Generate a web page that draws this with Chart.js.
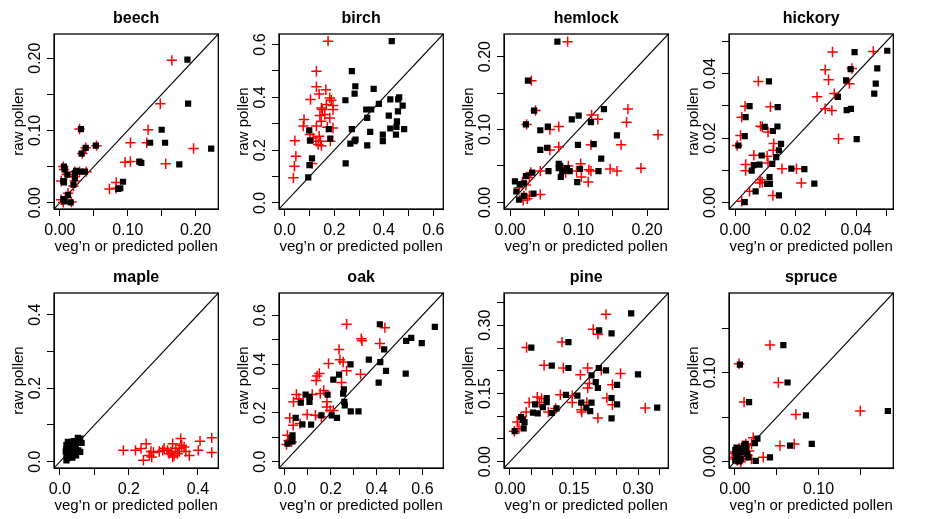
<!DOCTYPE html>
<html>
<head>
<meta charset="utf-8">
<style>
  html, body { margin: 0; padding: 0; background: #fff; }
  #wrap { position: relative; width: 933px; height: 519px; background: #fff; }
  #wrap canvas { position: absolute; }
</style>
</head>
<body>
<div id="wrap"></div>
<script src="https://cdn.jsdelivr.net/npm/chart.js"></script>
<script>
  const panelNames = ["beech", "birch", "hemlock", "hickory", "maple", "oak", "pine", "spruce"];

  // same range on both axes of a panel
  const axisLimits = [
    [-0.0087, 0.2335], [-0.023, 0.64], [-0.009, 0.231], [-0.002, 0.0523],
    [-0.017, 0.459], [-0.026, 0.691], [-0.014, 0.371], [-0.007, 0.1895],
  ];

  const tickValues = [
    [0, 0.05, 0.1, 0.15, 0.2],
    [0, 0.1, 0.2, 0.3, 0.4, 0.5, 0.6],
    [0, 0.05, 0.1, 0.15, 0.2],
    [0, 0.01, 0.02, 0.03, 0.04, 0.05],
    [0, 0.1, 0.2, 0.3, 0.4],
    [0, 0.1, 0.2, 0.3, 0.4, 0.5, 0.6],
    [0, 0.05, 0.1, 0.15, 0.2, 0.25, 0.3, 0.35],
    [0, 0.05, 0.1, 0.15],
  ];

  const tickLabels = [
    ["0.00", "", "0.10", "", "0.20"],
    ["0.0", "", "0.2", "", "0.4", "", "0.6"],
    ["0.00", "", "0.10", "", "0.20"],
    ["0.00", "", "0.02", "", "0.04", ""],
    ["0.0", "", "0.2", "", "0.4"],
    ["0.0", "", "0.2", "", "0.4", "", "0.6"],
    ["0.00", "", "", "0.15", "", "", "0.30", ""],
    ["0.00", "", "0.10", ""],
  ];

  // [x, y] = [veg'n or predicted pollen, raw pollen]
  const beechCross = [[0.165,0.197],[0.148,0.137],[0.130,0.101],[0.104,0.083],[0.128,0.083],[0.197,0.075],[0.156,0.054],[0.104,0.057],[0.096,0.056],[0.083,0.028],[0.073,0.019],[0.083,0.020],[0.029,0.102],[0.033,0.068],[0.038,0.076],[0.054,0.079],[0.039,0.043],[0.029,0.043],[0.022,0.043],[0.005,0.050],[0.010,0.039],[0.002,0.030],[0.022,0.030],[0.020,0.023],[0.012,0.013],[0.002,0.004],[0.017,0.001],[0.005,0.0005],[0.006,0.046],[0.022,0.036],[0.008,0.007]];
  const beechSquare = [[0.188,0.198],[0.189,0.137],[0.150,0.101],[0.155,0.083],[0.133,0.083],[0.223,0.075],[0.176,0.053],[0.117,0.057],[0.120,0.055],[0.093,0.029],[0.086,0.019],[0.089,0.020],[0.031,0.102],[0.032,0.068],[0.038,0.076],[0.053,0.079],[0.037,0.043],[0.030,0.043],[0.022,0.041],[0.006,0.050],[0.007,0.046],[0.011,0.039],[0.005,0.030],[0.022,0.034],[0.020,0.025],[0.012,0.011],[0.005,0.005],[0.007,0.002],[0.016,0.0005],[0.006,0.028],[0.024,0.044]];

  const birchCross = [[0.175,0.613],[0.128,0.499],[0.128,0.440],[0.166,0.429],[0.139,0.413],[0.104,0.392],[0.182,0.398],[0.188,0.389],[0.168,0.373],[0.195,0.369],[0.148,0.360],[0.152,0.354],[0.142,0.331],[0.162,0.335],[0.148,0.309],[0.182,0.322],[0.195,0.354],[0.078,0.316],[0.075,0.291],[0.172,0.287],[0.195,0.284],[0.128,0.291],[0.139,0.253],[0.144,0.234],[0.041,0.236],[0.102,0.259],[0.115,0.246],[0.126,0.234],[0.135,0.221],[0.148,0.217],[0.184,0.234],[0.045,0.177],[0.039,0.139],[0.111,0.149],[0.035,0.095]];
  const birchSquare = [[0.432,0.613],[0.271,0.499],[0.285,0.442],[0.282,0.414],[0.359,0.432],[0.245,0.389],[0.380,0.375],[0.462,0.400],[0.458,0.392],[0.426,0.392],[0.476,0.369],[0.329,0.354],[0.349,0.354],[0.333,0.322],[0.420,0.331],[0.457,0.347],[0.453,0.309],[0.451,0.288],[0.345,0.269],[0.426,0.282],[0.482,0.280],[0.449,0.259],[0.396,0.259],[0.396,0.234],[0.271,0.280],[0.178,0.280],[0.099,0.275],[0.286,0.240],[0.282,0.234],[0.265,0.225],[0.333,0.218],[0.184,0.244],[0.102,0.236],[0.110,0.169],[0.100,0.143],[0.095,0.097],[0.246,0.150]];

  const hemlockCross = [[0.084,0.2205],[0.031,0.167],[0.037,0.126],[0.024,0.107],[0.071,0.104],[0.058,0.100],[0.119,0.120],[0.128,0.114],[0.172,0.128],[0.170,0.110],[0.216,0.093],[0.162,0.079],[0.118,0.079],[0.071,0.076],[0.058,0.072],[0.191,0.047],[0.146,0.046],[0.156,0.043],[0.103,0.053],[0.104,0.035],[0.115,0.045],[0.118,0.043],[0.114,0.028],[0.097,0.043],[0.085,0.050],[0.081,0.041],[0.077,0.045],[0.044,0.043],[0.030,0.041],[0.028,0.034],[0.023,0.024],[0.018,0.028],[0.013,0.020],[0.020,0.009],[0.028,0.009],[0.044,0.011],[0.019,0.003],[0.025,0.005]];
  const hemlockSquare = [[0.069,0.2205],[0.026,0.167],[0.035,0.126],[0.023,0.107],[0.055,0.104],[0.044,0.099],[0.090,0.114],[0.100,0.119],[0.118,0.110],[0.137,0.128],[0.156,0.092],[0.122,0.080],[0.099,0.079],[0.054,0.075],[0.044,0.072],[0.133,0.060],[0.129,0.043],[0.102,0.046],[0.098,0.028],[0.071,0.053],[0.073,0.050],[0.074,0.035],[0.076,0.043],[0.080,0.044],[0.083,0.047],[0.087,0.043],[0.071,0.047],[0.056,0.043],[0.032,0.041],[0.023,0.036],[0.020,0.026],[0.014,0.025],[0.007,0.029],[0.009,0.015],[0.013,0.004],[0.020,0.009],[0.034,0.012]];

  const hickoryCross = [[0.0322,0.0467],[0.0457,0.0469],[0.0298,0.0412],[0.0386,0.0416],[0.0309,0.0381],[0.0378,0.0369],[0.0077,0.0376],[0.0328,0.0338],[0.0271,0.0328],[0.0298,0.0291],[0.0320,0.0286],[0.0033,0.0299],[0.0117,0.0297],[0.0022,0.0265],[0.0084,0.0237],[0.0090,0.0235],[0.0109,0.0219],[0.0018,0.0208],[0.0342,0.0198],[0.0007,0.0177],[0.0128,0.0183],[0.0126,0.0162],[0.0062,0.0147],[0.0106,0.0144],[0.0035,0.0118],[0.0109,0.0123],[0.0035,0.0099],[0.0155,0.0105],[0.0203,0.0105],[0.0084,0.0071],[0.0090,0.0063],[0.0082,0.0061],[0.0219,0.0061],[0.0048,0.0035],[0.0125,0.0022],[0.0022,0.0004]];
  const hickorySquare = [[0.0395,0.0467],[0.0503,0.0471],[0.0382,0.0414],[0.0470,0.0416],[0.0112,0.0376],[0.0367,0.0379],[0.0465,0.0369],[0.0460,0.0338],[0.0340,0.0328],[0.0383,0.0291],[0.0369,0.0287],[0.0048,0.0299],[0.0141,0.0296],[0.0035,0.0265],[0.0098,0.0235],[0.0140,0.0236],[0.0125,0.0222],[0.0402,0.0197],[0.0032,0.0206],[0.0011,0.0177],[0.0152,0.0182],[0.0145,0.0162],[0.0088,0.0146],[0.0136,0.0141],[0.0081,0.0118],[0.0062,0.0116],[0.0123,0.0120],[0.0055,0.0099],[0.0186,0.0105],[0.0229,0.0104],[0.0114,0.0079],[0.0106,0.0058],[0.0115,0.0058],[0.0262,0.0059],[0.0068,0.0035],[0.0145,0.0022],[0.0032,0.0001]];

  const mapleCross = [[0.184,0.031],[0.219,0.031],[0.250,0.049],[0.235,0.036],[0.264,0.028],[0.242,0.004],[0.266,0.013],[0.259,0.017],[0.271,0.025],[0.302,0.037],[0.298,0.031],[0.312,0.031],[0.327,0.049],[0.336,0.036],[0.346,0.028],[0.316,0.022],[0.331,0.017],[0.350,0.063],[0.353,0.045],[0.360,0.040],[0.346,0.037],[0.365,0.028],[0.327,0.013],[0.322,0.027],[0.375,0.017],[0.401,0.031],[0.406,0.056],[0.440,0.065],[0.440,0.025],[0.288,0.028],[0.341,0.022]];
  const mapleSquare = [[0.052,0.065],[0.059,0.063],[0.040,0.056],[0.023,0.054],[0.049,0.052],[0.033,0.048],[0.019,0.045],[0.063,0.051],[0.028,0.040],[0.043,0.037],[0.019,0.034],[0.053,0.031],[0.033,0.028],[0.023,0.025],[0.059,0.027],[0.040,0.022],[0.019,0.019],[0.030,0.016],[0.047,0.017],[0.023,0.010],[0.036,0.011],[0.019,0.004],[0.046,0.043],[0.028,0.031],[0.038,0.028],[0.017,0.028],[0.033,0.022],[0.043,0.031]];

  const oakCross = [[0.269,0.563],[0.333,0.504],[0.336,0.495],[0.414,0.484],[0.436,0.549],[0.236,0.460],[0.240,0.418],[0.254,0.408],[0.269,0.372],[0.247,0.324],[0.330,0.358],[0.190,0.402],[0.150,0.361],[0.140,0.351],[0.136,0.333],[0.169,0.292],[0.154,0.279],[0.119,0.275],[0.183,0.245],[0.183,0.224],[0.197,0.210],[0.211,0.210],[0.097,0.193],[0.133,0.190],[0.159,0.183],[0.050,0.275],[0.061,0.258],[0.037,0.245],[0.021,0.179],[0.036,0.149],[0.066,0.156],[0.011,0.108],[0.016,0.087],[0.007,0.070],[0.029,0.081]];
  const oakSquare = [[0.414,0.563],[0.654,0.552],[0.551,0.507],[0.529,0.495],[0.597,0.486],[0.433,0.460],[0.366,0.418],[0.416,0.408],[0.441,0.372],[0.527,0.361],[0.409,0.324],[0.286,0.399],[0.236,0.357],[0.211,0.336],[0.257,0.296],[0.254,0.279],[0.186,0.275],[0.259,0.245],[0.261,0.231],[0.287,0.206],[0.321,0.206],[0.159,0.190],[0.204,0.190],[0.227,0.179],[0.114,0.152],[0.076,0.153],[0.090,0.275],[0.107,0.265],[0.107,0.245],[0.069,0.242],[0.047,0.179],[0.033,0.108],[0.030,0.097],[0.033,0.083],[0.011,0.074]];

  const pineCross = [[0.225,0.324],[0.195,0.291],[0.206,0.280],[0.122,0.263],[0.039,0.251],[0.080,0.212],[0.125,0.206],[0.182,0.206],[0.214,0.201],[0.259,0.194],[0.165,0.191],[0.186,0.172],[0.182,0.162],[0.240,0.169],[0.118,0.147],[0.227,0.140],[0.240,0.125],[0.146,0.145],[0.146,0.130],[0.167,0.114],[0.168,0.109],[0.180,0.130],[0.107,0.117],[0.090,0.109],[0.206,0.096],[0.317,0.118],[0.045,0.130],[0.064,0.142],[0.074,0.139],[0.069,0.130],[0.038,0.109],[0.026,0.098],[0.017,0.087],[0.021,0.073],[0.010,0.067]];
  const pineSquare = [[0.284,0.326],[0.209,0.289],[0.238,0.282],[0.137,0.263],[0.050,0.251],[0.098,0.211],[0.137,0.206],[0.208,0.206],[0.225,0.201],[0.300,0.192],[0.191,0.190],[0.201,0.175],[0.206,0.162],[0.251,0.169],[0.158,0.145],[0.131,0.147],[0.238,0.140],[0.251,0.126],[0.167,0.130],[0.191,0.130],[0.179,0.119],[0.188,0.111],[0.109,0.117],[0.098,0.107],[0.238,0.095],[0.345,0.119],[0.086,0.140],[0.086,0.131],[0.077,0.120],[0.059,0.126],[0.065,0.106],[0.054,0.108],[0.026,0.098],[0.034,0.087],[0.030,0.092],[0.032,0.073],[0.011,0.067]];

  const spruceCross = [[0.042,0.131],[0.005,0.110],[0.052,0.089],[0.011,0.067],[0.073,0.053],[0.150,0.057],[0.071,0.020],[0.054,0.018],[0.022,0.027],[0.034,0.005],[0.020,0.003],[0.000,0.011],[0.002,0.007],[0.007,0.013],[0.009,0.018],[0.013,0.020],[0.003,0.0015],[0.009,0.003],[0.0005,0.003],[0.015,0.007],[0.005,0.015],[0.0005,0.005],[0.017,0.012],[0.011,0.007],[0.004,0.009],[0.007,0.000],[0.020,0.020],[0.000,0.009]];
  const spruceSquare = [[0.058,0.131],[0.006,0.109],[0.063,0.089],[0.017,0.067],[0.085,0.052],[0.183,0.057],[0.092,0.020],[0.066,0.018],[0.027,0.026],[0.042,0.005],[0.025,0.001],[0.024,0.021],[0.0005,0.013],[0.001,0.009],[0.003,0.005],[0.007,0.003],[0.0005,0.0015],[0.009,0.011],[0.011,0.018],[0.013,0.013],[0.015,0.009],[0.016,0.005],[0.005,0.0004],[0.002,0.016],[0.004,0.007],[0.008,0.015],[0.013,0.020],[0.006,0.011]];

  const crossSeries = [beechCross, birchCross, hemlockCross, hickoryCross, mapleCross, oakCross, pineCross, spruceCross];
  const squareSeries = [beechSquare, birchSquare, hemlockSquare, hickorySquare, mapleSquare, oakSquare, pineSquare, spruceSquare];

  const FONT = '"Liberation Sans", Arial, Helvetica, sans-serif';
  const measure = document.createElement("canvas").getContext("2d");
  measure.font = "16px " + FONT;

  // R-style box around the plot region
  const boxPlugin = {
    id: "box",
    afterDatasetsDraw(chart) {
      const a = chart.chartArea, ctx = chart.ctx;
      ctx.save();
      ctx.strokeStyle = "#000";
      ctx.lineWidth = 1.3;
      ctx.strokeRect(a.left, a.top, a.right - a.left, a.bottom - a.top);
      ctx.restore();
    },
  };

  const wrap = document.getElementById("wrap");

  panelNames.forEach((name, i) => {
    const [lo, hi] = axisLimits[i];
    const ticks = tickValues[i];
    const labels = tickLabels[i];
    const widest = Math.max(...labels.map((l) => measure.measureText(l).width));

    const canvas = document.createElement("canvas");
    canvas.width = 225;
    canvas.height = 259;
    canvas.style.left = (i % 4) * 225 + "px";
    canvas.style.top = Math.floor(i / 4) * 259 + "px";
    wrap.appendChild(canvas);

    const setTicks = (s) => { s.ticks = ticks.map((v) => ({ value: v })); };
    const fmt = (v, k) => labels[k];
    const grid = { drawOnChartArea: false, drawTicks: true, tickLength: 7, color: "#000", lineWidth: 1 };

    new Chart(canvas, {
      type: "scatter",
      data: {
        datasets: [
          {
            data: squareSeries[i].map(([x, y]) => ({ x, y })),
            pointStyle: "rect",
            pointRadius: 4.4,
            backgroundColor: "#000",
            borderColor: "#000",
            borderWidth: 0,
          },
          {
            data: crossSeries[i].map(([x, y]) => ({ x, y })),
            pointStyle: "cross",
            pointRadius: 5.2,
            backgroundColor: "#ff0000",
            borderColor: "#ff0000",
            borderWidth: 1.5,
          },
          {
            data: [{ x: lo, y: lo }, { x: hi, y: hi }],
            showLine: true,
            borderColor: "#000",
            borderWidth: 1.1,
            pointRadius: 0,
          },
        ],
      },
      options: {
        responsive: false,
        animation: false,
        events: [],
        layout: { padding: { left: 0, top: 0, right: 6, bottom: 0 } },
        plugins: {
          legend: { display: false },
          tooltip: { enabled: false },
          title: {
            display: true,
            text: name,
            fullSize: false,
            color: "#000",
            font: { family: FONT, size: 16, weight: "bold" },
            padding: { top: 9, bottom: 5.8 },
          },
        },
        scales: {
          x: {
            type: "linear",
            min: lo,
            max: hi,
            afterBuildTicks: setTicks,
            afterFit: (s) => { s.height = 50; },
            grid: grid,
            border: { display: true, color: "#000", width: 1 },
            ticks: {
              autoSkip: false, maxRotation: 0, minRotation: 0, padding: 5,
              color: "#000", font: { family: FONT, size: 16 }, callback: fmt,
            },
            title: {
              display: true, text: "veg\u2019n or predicted pollen", color: "#000",
              font: { family: FONT, size: 15 }, padding: { top: 0, bottom: 3.5 },
            },
          },
          y: {
            type: "linear",
            min: lo,
            max: hi,
            afterBuildTicks: setTicks,
            afterFit: (s) => { s.width = 54; },
            grid: grid,
            border: { display: true, color: "#000", width: 1 },
            ticks: {
              autoSkip: false, minRotation: 90, maxRotation: 90, crossAlign: "center",
              padding: 11 - widest / 2,
              color: "#000", font: { family: FONT, size: 16 }, callback: fmt,
            },
            title: {
              display: true, text: "raw pollen", color: "#000",
              font: { family: FONT, size: 15 }, padding: { top: 9.5, bottom: 0 },
            },
          },
        },
      },
      plugins: [boxPlugin],
    });
  });
</script>
</body>
</html>
